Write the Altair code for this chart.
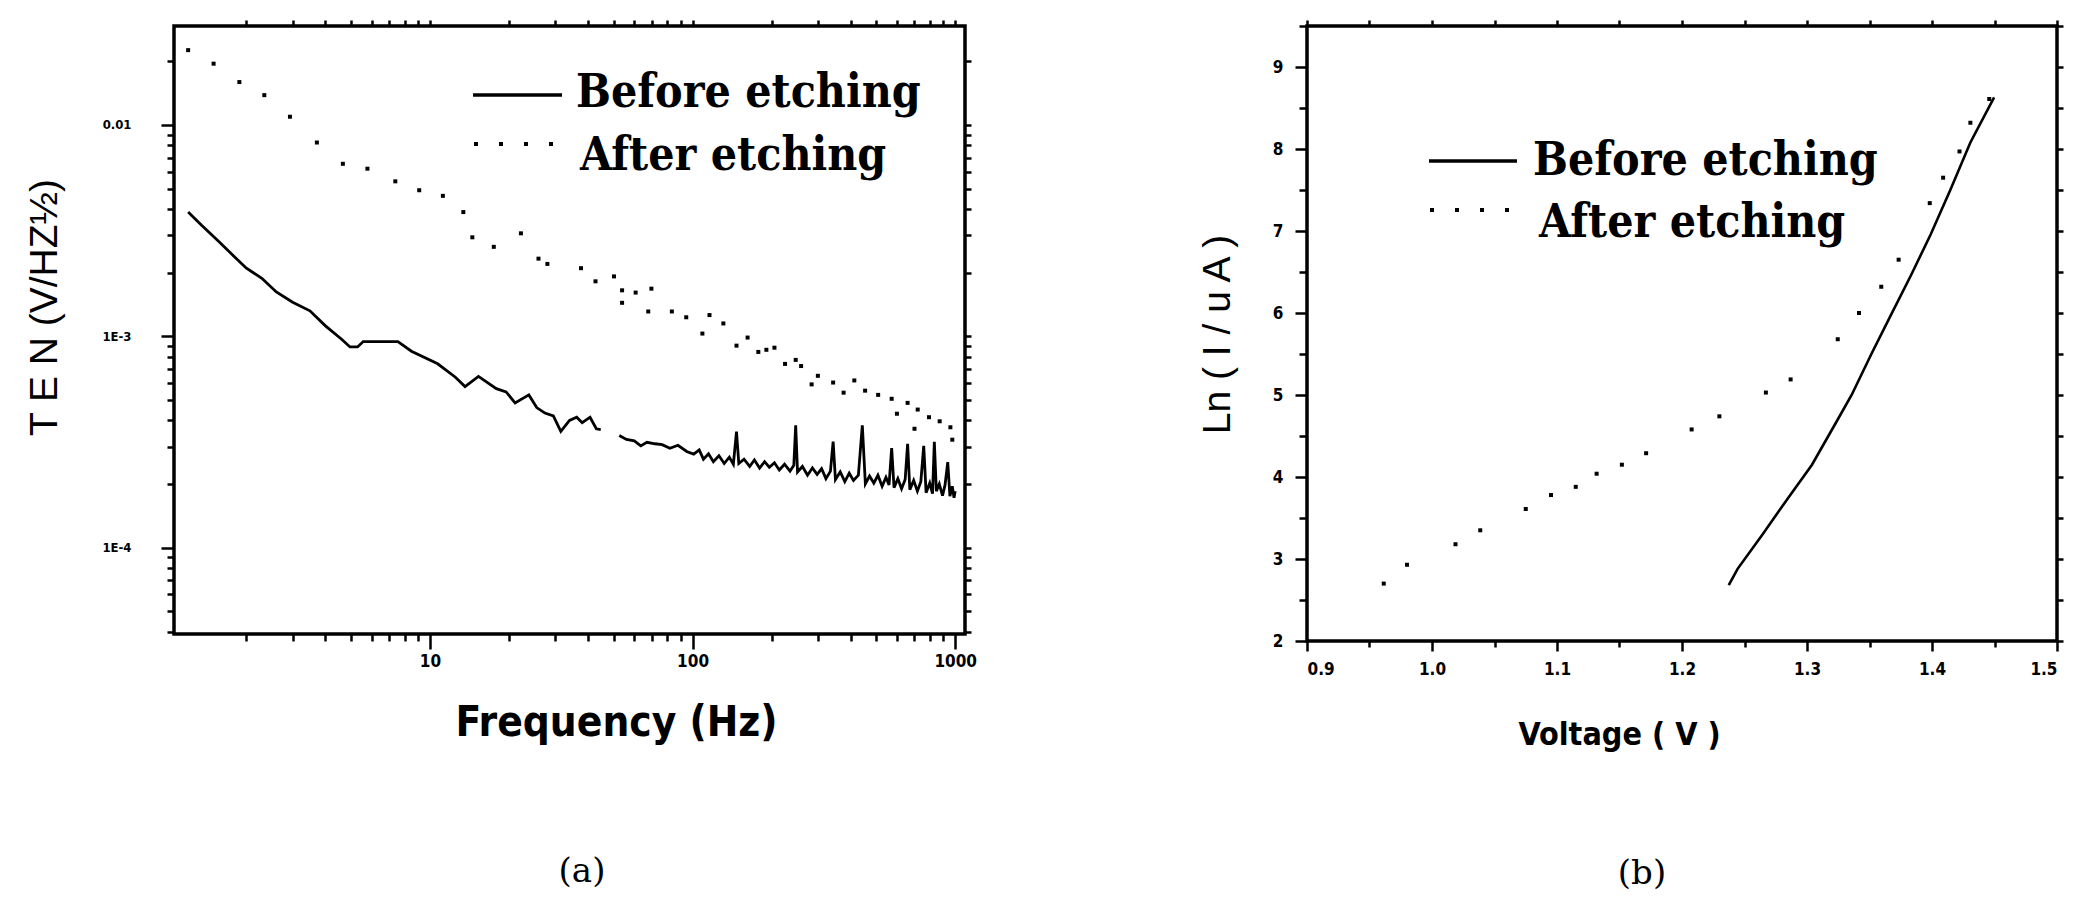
import altair as alt
import pandas as pd

# ---------------- Panel (a): noise spectrum ----------------
# Before etching: frequency (Hz) and TEN (V/Hz^1/2); two traced segments
before_freq_1 = [1.2, 1.35, 1.57, 1.8, 2.0, 2.29, 2.6, 3.0, 3.49, 4.0, 4.62, 4.96, 5.3, 5.57,
                 7.55, 8.5, 10.7, 12.5, 13.6, 15.3, 17.9, 19.5, 21.1, 23.8, 25.5, 27.4, 29.5,
                 31.5, 34, 36.2, 38, 40.7, 43, 44.7]
before_ten_1 = [3.87e-3, 3.35e-3, 2.81e-3, 2.38e-3, 2.1e-3, 1.88e-3, 1.62e-3, 1.45e-3, 1.32e-3,
                1.12e-3, 9.66e-4, 8.9e-4, 8.9e-4, 9.44e-4, 9.44e-4, 8.5e-4, 7.41e-4, 6.4e-4,
                5.78e-4, 6.46e-4, 5.65e-4, 5.45e-4, 4.84e-4, 5.28e-4, 4.6e-4, 4.33e-4, 4.2e-4,
                3.55e-4, 4.0e-4, 4.14e-4, 3.9e-4, 4.14e-4, 3.65e-4, 3.62e-4]
before_freq_2 = [52.6, 56, 60, 63.5, 67, 72, 76.6, 82, 88, 95, 101, 106, 110, 115, 120, 126, 132,
                 138, 143, 147, 150, 157, 165, 172, 180, 188, 196, 205, 214, 224, 235, 243, 247,
                 251, 262, 274, 286, 298, 310, 322, 335, 343, 350, 365, 380, 395, 410, 428, 443,
                 455, 472, 490, 508, 527, 545, 560, 573, 585, 605, 625, 645, 659, 672, 695, 718,
                 740, 759, 775, 800, 820, 833, 848, 870, 895, 915, 937, 955, 975, 990, 1000]
before_ten_2 = [3.39e-4, 3.25e-4, 3.2e-4, 3.03e-4, 3.15e-4, 3.1e-4, 3.07e-4, 2.95e-4, 3.05e-4,
                2.85e-4, 2.77e-4, 2.9e-4, 2.62e-4, 2.78e-4, 2.55e-4, 2.72e-4, 2.5e-4, 2.68e-4,
                2.48e-4, 3.54e-4, 2.5e-4, 2.62e-4, 2.42e-4, 2.6e-4, 2.38e-4, 2.55e-4, 2.4e-4,
                2.52e-4, 2.33e-4, 2.48e-4, 2.3e-4, 2.45e-4, 3.79e-4, 2.28e-4, 2.42e-4, 2.2e-4,
                2.38e-4, 2.22e-4, 2.36e-4, 2.12e-4, 2.3e-4, 3.17e-4, 2.1e-4, 2.28e-4, 2.05e-4,
                2.25e-4, 2.08e-4, 2.2e-4, 3.79e-4, 2.0e-4, 2.18e-4, 2.02e-4, 2.2e-4, 1.95e-4,
                2.15e-4, 1.98e-4, 2.96e-4, 1.92e-4, 2.12e-4, 1.9e-4, 2.1e-4, 3.1e-4, 1.88e-4,
                2.08e-4, 1.85e-4, 2.05e-4, 3.03e-4, 1.82e-4, 2.02e-4, 1.8e-4, 3.17e-4, 1.85e-4,
                2.0e-4, 1.76e-4, 1.98e-4, 2.54e-4, 1.75e-4, 1.95e-4, 1.72e-4, 1.85e-4]

# After etching: sparse dotted trace
after_freq = [1.2, 1.5, 1.88, 2.34, 2.93, 3.71, 4.66, 5.78, 7.38, 9.1, 11.2, 13.4, 14.5, 17.5,
              22.2, 25.9, 28.0, 37.6, 42.7, 50.2, 53.9, 53.9, 60.7, 69.7, 67.8, 83.4, 94.6,
              109, 116, 131, 147, 162, 178, 191, 205, 225, 247, 259, 284, 300, 343, 376, 413,
              454, 509, 573, 600, 659, 700, 720, 795, 873, 959, 975]
after_ten = [2.26e-2, 1.95e-2, 1.596e-2, 1.384e-2, 1.094e-2, 8.26e-3, 6.55e-3, 6.21e-3, 5.41e-3,
             4.91e-3, 4.62e-3, 3.87e-3, 2.94e-3, 2.65e-3, 3.07e-3, 2.33e-3, 2.2e-3, 2.1e-3,
             1.82e-3, 1.92e-3, 1.65e-3, 1.44e-3, 1.61e-3, 1.68e-3, 1.31e-3, 1.31e-3, 1.23e-3,
             1.03e-3, 1.26e-3, 1.15e-3, 9.03e-4, 9.86e-4, 8.43e-4, 8.63e-4, 8.83e-4, 7.4e-4,
             7.73e-4, 7.23e-4, 5.92e-4, 6.5e-4, 6.04e-4, 5.41e-4, 6.18e-4, 5.53e-4, 5.28e-4,
             5.06e-4, 4.3e-4, 4.84e-4, 3.65e-4, 4.5e-4, 4.14e-4, 3.96e-4, 3.71e-4, 3.24e-4]

freq_domain = [1.06, 1090]
ten_domain = [3.9e-5, 2.94e-2]
freq_major = [10, 100, 1000]
freq_minor = [2, 3, 4, 5, 6, 7, 8, 9, 20, 30, 40, 50, 60, 70, 80, 90,
              200, 300, 400, 500, 600, 700, 800, 900]
ten_major = [1e-4, 1e-3, 1e-2]
ten_major_labels = ["1E-4", "1E-3", "0.01"]
ten_minor = [4e-5, 5e-5, 6e-5, 7e-5, 8e-5, 9e-5, 2e-4, 3e-4, 4e-4, 5e-4, 6e-4, 7e-4, 8e-4,
             9e-4, 2e-3, 3e-3, 4e-3, 5e-3, 6e-3, 7e-3, 8e-3, 9e-3, 2e-2]

# ---------------- Panel (b): I-V curve ----------------
before_v = [1.2374, 1.2445, 1.2644, 1.2842, 1.304, 1.3238, 1.3357, 1.3515, 1.3673, 1.3832,
            1.399, 1.4149, 1.4307, 1.4497]
before_lni = [2.68, 2.88, 3.30, 3.73, 4.15, 4.68, 5.00, 5.50, 5.98, 6.46, 6.96, 7.51, 8.08, 8.63]
after_v = [0.9614, 0.98, 1.0188, 1.0386, 1.075, 1.0952, 1.115, 1.1317, 1.1519, 1.1713, 1.2077,
           1.2299, 1.2671, 1.2869, 1.3246, 1.3416, 1.3594, 1.3733, 1.3982, 1.4089, 1.422,
           1.4307, 1.4458]
after_lni = [2.70, 2.93, 3.18, 3.35, 3.61, 3.78, 3.88, 4.04, 4.15, 4.29, 4.58, 4.74, 5.03, 5.19,
             5.68, 6.00, 6.32, 6.65, 7.34, 7.65, 7.97, 8.32, 8.61]

v_domain = [0.9, 1.5]
lni_domain = [2, 9.5]
v_major = [0.9, 1.0, 1.1, 1.2, 1.3, 1.4, 1.5]
v_minor = [0.95, 1.05, 1.15, 1.25, 1.35, 1.45]
lni_major = [2, 3, 4, 5, 6, 7, 8, 9]
lni_minor = [2.5, 3.5, 4.5, 5.5, 6.5, 7.5, 8.5, 9.5]

legend_labels = ["Before etching", "After etching"]

# ---------------- styling ----------------
LABEL_FONT = "DejaVu Sans Condensed"
TITLE_FONT = "DejaVu Sans Condensed"
SIDE_FONT = "Liberation Sans"
LEGEND_FONT = "DejaVu Serif Condensed"
CAPTION_FONT = "DejaVu Serif"
INK = "black"


def label_expr(values, labels):
    expr = "''"
    for v, t in zip(values, labels):
        expr = f"abs(datum.value - {v!r}) < {abs(v) * 1e-6!r} ? '{t}' : ({expr})"
    return expr


def plain_axis(orient, values, size, **kw):
    return alt.Axis(orient=orient, values=values, tickSize=size, tickWidth=2.5,
                    tickColor=INK, labels=False, domain=False, grid=False, title=None, **kw)


def one_row():
    return alt.Data(values=[{}])


def legend_layers(line_x, line_y, dot_x, dot_y, text1_x, text1_y, text2_x, text2_y, size):
    sample_line = alt.Chart(one_row()).mark_rule(color=INK, strokeWidth=3.5).encode(
        x=alt.value(line_x[0]), x2=alt.value(line_x[1]), y=alt.value(line_y))
    sample_dots = alt.Chart(one_row()).mark_rule(
        color=INK, strokeWidth=4, strokeDash=[4, 21]).encode(
        x=alt.value(dot_x[0]), x2=alt.value(dot_x[1]), y=alt.value(dot_y))
    text1 = alt.Chart(one_row()).mark_text(
        text=legend_labels[0], font=LEGEND_FONT, fontWeight="bold", fontSize=size,
        align="left", baseline="alphabetic", color=INK).encode(
        x=alt.value(text1_x), y=alt.value(text1_y))
    text2 = alt.Chart(one_row()).mark_text(
        text=legend_labels[1], font=LEGEND_FONT, fontWeight="bold", fontSize=size,
        align="left", baseline="alphabetic", color=INK).encode(
        x=alt.value(text2_x), y=alt.value(text2_y))
    return [sample_line, sample_dots, text1, text2]


def caption(text, x, y):
    return alt.Chart(one_row()).mark_text(
        text=text, font=CAPTION_FONT, fontSize=34, align="center", baseline="middle",
        color=INK).encode(x=alt.value(x), y=alt.value(y))


# ---------------- panel (a) ----------------
before_a = pd.DataFrame({
    "freq": before_freq_1 + before_freq_2,
    "ten": before_ten_1 + before_ten_2,
    "seg": [1] * len(before_freq_1) + [2] * len(before_freq_2),
})
after_a = pd.DataFrame({"freq": after_freq, "ten": after_ten})

fx = alt.Scale(type="log", domain=freq_domain, nice=False)
fy = alt.Scale(type="log", domain=ten_domain, nice=False)

a_line = alt.Chart(before_a).mark_line(color=INK, strokeWidth=2.8).encode(
    x=alt.X("freq:Q", scale=fx, axis=alt.Axis(
        orient="bottom", values=freq_major, format="d", tickSize=15, tickWidth=2.5,
        tickColor=INK, domain=False, grid=False, labelFont=LABEL_FONT, labelFontSize=17,
        labelFontWeight="bold", labelColor=INK, labelPadding=4,
        title="Frequency (Hz)", titleFont=TITLE_FONT, titleFontSize=42,
        titleFontWeight="bold", titleColor=INK, titleX=442, titleY=101,
        titleBaseline="alphabetic")),
    y=alt.Y("ten:Q", scale=fy, axis=alt.Axis(
        orient="left", values=ten_major, labelExpr=label_expr(ten_major, ten_major_labels),
        tickSize=13, tickWidth=2.5, tickColor=INK, domain=False, grid=False,
        labelFont=LABEL_FONT, labelFontSize=13, labelFontWeight="bold", labelColor=INK,
        labelPadding=30, title="T E N  (V/HZ½)", titleFont=SIDE_FONT, titleFontSize=39,
        titleColor=INK, titleFontWeight="normal", titleX=-130, titleY=281,
        titleBaseline="middle")),
    detail="seg:N",
)

a_dots = alt.Chart(after_a).mark_square(color=INK, opacity=1, size=16).encode(
    x=alt.X("freq:Q", scale=fx, axis=plain_axis("bottom", freq_minor, 7)),
    y=alt.Y("ten:Q", scale=fy, axis=plain_axis("left", ten_minor, 7)),
)

a_mirror = alt.Chart(before_a).mark_line(opacity=0).encode(
    x=alt.X("freq:Q", scale=fx, axis=plain_axis("top", freq_major + freq_minor, 6)),
    y=alt.Y("ten:Q", scale=fy, axis=plain_axis("right", ten_major + ten_minor, 6)),
    detail="seg:N",
)

# keeps the outer frame of the page at a fixed offset from the plot box
anchor = alt.Chart(one_row()).mark_rule(strokeOpacity=0).encode(
    x=alt.value(-172), x2=alt.value(-171), y=alt.value(-24), y2=alt.value(-23))

panel_a = alt.layer(
    a_line, a_dots, a_mirror,
    *legend_layers((299, 388), 69, (300, 380), 118, 402, 81, 406, 144, 46),
    caption("(a)", 408, 846), anchor,
).resolve_axis(x="independent", y="independent").properties(width=791, height=608)

# ---------------- panel (b) ----------------
before_b = pd.DataFrame({"v": before_v, "lni": before_lni})
after_b = pd.DataFrame({"v": after_v, "lni": after_lni})

vx = alt.Scale(domain=v_domain, nice=False, zero=False)
vy = alt.Scale(domain=lni_domain, nice=False, zero=False)

b_line = alt.Chart(before_b).mark_line(color=INK, strokeWidth=2.6).encode(
    x=alt.X("v:Q", scale=vx, axis=alt.Axis(
        orient="bottom", values=v_major, format=".1f", tickSize=10, tickWidth=2.5,
        tickColor=INK, domain=False, grid=False, labelFont=LABEL_FONT, labelFontSize=17,
        labelFontWeight="bold", labelColor=INK, labelPadding=10,
        title="Voltage ( V )", titleFont=TITLE_FONT, titleFontSize=32,
        titleFontWeight="bold", titleColor=INK, titleX=312, titleY=103,
        titleBaseline="alphabetic")),
    y=alt.Y("lni:Q", scale=vy, axis=alt.Axis(
        orient="left", values=lni_major, format="d", tickSize=12, tickWidth=2.5,
        tickColor=INK, domain=False, grid=False, labelFont=LABEL_FONT, labelFontSize=17,
        labelFontWeight="bold", labelColor=INK, labelPadding=12,
        title="Ln ( I / u A )", titleFont=SIDE_FONT, titleFontSize=39,
        titleFontWeight="normal", titleColor=INK, titleX=-90, titleY=308,
        titleBaseline="middle")),
)

b_dots = alt.Chart(after_b).mark_square(color=INK, opacity=1, size=16).encode(
    x=alt.X("v:Q", scale=vx, axis=plain_axis("bottom", v_minor, 6)),
    y=alt.Y("lni:Q", scale=vy, axis=plain_axis("left", lni_minor, 8)),
)

b_mirror = alt.Chart(before_b).mark_line(opacity=0).encode(
    x=alt.X("v:Q", scale=vx, axis=plain_axis("top", v_major + v_minor, 6)),
    y=alt.Y("lni:Q", scale=vy, axis=plain_axis("right", lni_major + lni_minor, 6)),
)

panel_b = alt.layer(
    b_line, b_dots, b_mirror,
    *legend_layers((122, 210), 135, (123, 203), 184, 226, 149, 232, 211, 46),
    caption("(b)", 335, 848),
).resolve_axis(x="independent", y="independent").properties(width=750, height=615)

chart = alt.hconcat(panel_a, panel_b, spacing=342, bounds="flush").configure_view(
    stroke=INK, strokeWidth=3.5
).properties(
    padding={"left": 0, "top": 0, "right": 5, "bottom": 5}, background="white"
)

chart.save("out.html", embed_options={"renderer": "svg", "actions": False})
